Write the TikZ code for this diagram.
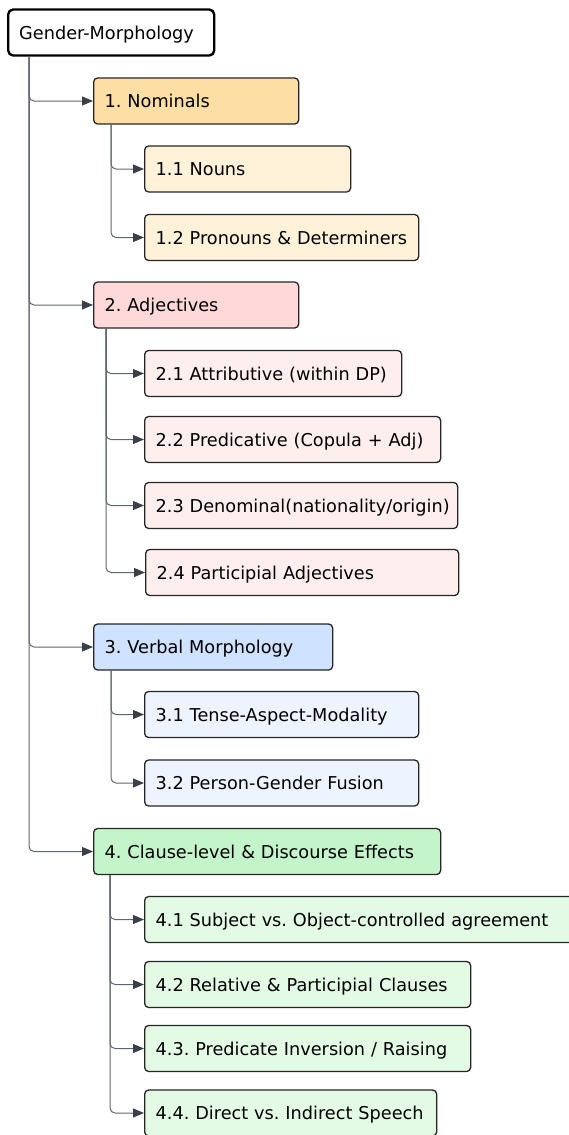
\documentclass[tikz,border=0pt]{standalone}
\usepackage{fontspec}
\setmainfont{DejaVu Sans}
\usetikzlibrary{arrows.meta}
\frenchspacing

\definecolor{edgegray}{HTML}{5F6570}
\definecolor{tipgray}{HTML}{3A3F48}
\definecolor{nomfill}{HTML}{FDDFA5}
\definecolor{nomsub}{HTML}{FFF2D9}
\definecolor{adjfill}{HTML}{FFD9DA}
\definecolor{adjsub}{HTML}{FFEEEE}
\definecolor{verbfill}{HTML}{CFE2FF}
\definecolor{verbsub}{HTML}{EEF4FF}
\definecolor{clausefill}{HTML}{C4F5CA}
\definecolor{clausesub}{HTML}{E3FAE5}

\begin{document}
\begin{tikzpicture}[x=1pt, y=-1pt,
    boxnode/.style={draw=black!85, line width=1.3pt, rounded corners=4pt, anchor=west,
        inner xsep=11pt, minimum height=46pt, text height=15pt, text depth=2pt,
        align=left, font=\fontsize{17.7}{20}\selectfont,
        execute at begin node={\hbox\bgroup}, execute at end node={\egroup}},
    rootnode/.style={boxnode, draw=black, line width=2.4pt, rounded corners=5pt, fill=white},
    link/.style={draw=edgegray, line width=1pt, rounded corners=5pt,
        -{Triangle[length=11pt, width=9pt, color=tipgray]}}]
        \useasboundingbox (0,0) rectangle (569,1135);

        % Nodes
        \node[rootnode, text width=184pt] at (7, 32.5)  (root)    {Gender-Morphology};

        \node[boxnode, fill=nomfill, text width=183pt] at (93, 101)  (nom)    {1. Nominals};
        \node[boxnode, fill=nomsub, text width=184pt] at (144, 169)  (noun)    {1.1 Nouns};
        \node[boxnode, fill=nomsub, text width=252pt] at (144, 237.5)  (pron)    {1.2 Pronouns \& Determiners};

        \node[boxnode, fill=adjfill, text width=183pt] at (93, 305)  (adj)    {2. Adjectives};
        \node[boxnode, fill=adjsub, text width=235pt] at (144, 373.5)  (attr)    {2.1 Attributive (within DP)};
        \node[boxnode, fill=adjsub, text width=274pt] at (144, 439.5)  (pred)    {2.2 Predicative (Copula + Adj)};
        \node[boxnode, fill=adjsub, text width=291pt] at (144, 505.5)  (denom)    {2.3 Denominal(nationality/origin)};
        \node[boxnode, fill=adjsub, text width=291pt] at (145, 572.5)  (partadj)    {2.4 Participial Adjectives};

        \node[boxnode, fill=verbfill, text width=217pt] at (93, 647)  (verb)    {3. Verbal Morphology};
        \node[boxnode, fill=verbsub, text width=252pt] at (144, 714.5)  (tam)    {3.1 Tense-Aspect-Modality};
        \node[boxnode, fill=verbsub, text width=252pt] at (144, 783)  (pgf)    {3.2 Person-Gender Fusion};

        \node[boxnode, fill=clausefill, text width=325pt] at (93, 851.5)  (clause)    {4. Clause-level \& Discourse Effects};
        \node[boxnode, fill=clausesub, text width=420pt] at (144, 919.5)  (subj)    {4.1 Subject vs. Object-controlled agreement};
        \node[boxnode, fill=clausesub, text width=304pt] at (144, 984.5)  (rel)    {4.2 Relative \& Participial Clauses};
        \node[boxnode, fill=clausesub, text width=304pt] at (144, 1048.5)  (inv)    {4.3. Predicate Inversion / Raising};
        \node[boxnode, fill=clausesub, text width=270pt] at (144, 1113)  (speech)    {4.4. Direct vs. Indirect Speech};

        % Edges
        \draw[link]  ([xshift=22pt]root.south west) |- (nom.west);
        \draw[link]  ([xshift=22pt]root.south west) |- (adj.west);
        \draw[link]  ([xshift=22pt]root.south west) |- (verb.west);
        \draw[link]  ([xshift=22pt]root.south west) |- (clause.west);

        \draw[link]  ([xshift=18pt]nom.south west) |- (noun.west);
        \draw[link]  ([xshift=18pt]nom.south west) |- (pron.west);

        \draw[link]  ([xshift=13pt]adj.south west) |- (attr.west);
        \draw[link]  ([xshift=13pt]adj.south west) |- (pred.west);
        \draw[link]  ([xshift=13pt]adj.south west) |- (denom.west);
        \draw[link]  ([xshift=13pt]adj.south west) |- (partadj.west);

        \draw[link]  ([xshift=18pt]verb.south west) |- (tam.west);
        \draw[link]  ([xshift=18pt]verb.south west) |- (pgf.west);

        \draw[link]  ([xshift=17pt]clause.south west) |- (subj.west);
        \draw[link]  ([xshift=17pt]clause.south west) |- (rel.west);
        \draw[link]  ([xshift=17pt]clause.south west) |- (inv.west);
        \draw[link]  ([xshift=17pt]clause.south west) |- (speech.west);
    \end{tikzpicture}
\end{document}
